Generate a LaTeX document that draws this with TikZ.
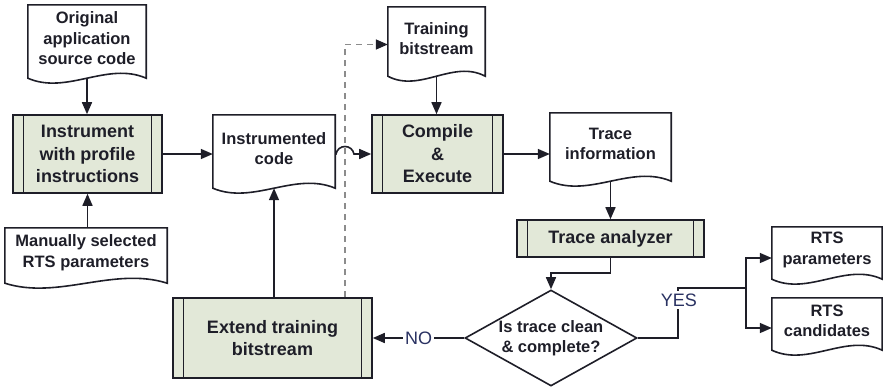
\documentclass[tikz,border=0pt]{standalone}
\usepackage{fontspec}
\setmainfont{Liberation Sans}
\usetikzlibrary{shapes.geometric,arrows.meta,calc}

\definecolor{procfill}{HTML}{E2E8D8}
\definecolor{ink}{HTML}{1E1E28}
\definecolor{dashgray}{HTML}{8C8C8C}
\definecolor{labelink}{HTML}{2A3262}

% Document symbol: straight top and sides, wavy bottom edge drawn
% #1 below the node's south border.
\newcommand\docoutline[2][6]{%
  \draw[outline] (#2.north west) -- (#2.north east) -- ($(#2.south east)+(0,#1)$)
    .. controls ($(#2.south east)!0.33!(#2.south west)+(0,#1-17)$)
            and ($(#2.south east)!0.67!(#2.south west)+(0,#1+17)$)
    .. ($(#2.south west)+(0,#1)$) -- cycle;}

\begin{document}
\begin{tikzpicture}[x=1pt,y=-1pt,
  outline/.style={line width=1.6pt, draw=ink, line join=miter},
  line/.style={line width=1.6pt, draw=ink},
  txt/.style={font=\fontsize{16.5}{20.5}\selectfont\bfseries, text=ink,
    align=center, inner sep=0pt},
  doc/.style={txt, rectangle},
  proc/.style={txt, rectangle, outline, fill=procfill,
    font=\fontsize{18}{22.5}\selectfont\bfseries,
    path picture={
      \draw[line] ([xshift=10.5pt]path picture bounding box.north west)
               -- ([xshift=10.5pt]path picture bounding box.south west);
      \draw[line] ([xshift=-10.5pt]path picture bounding box.north east)
               -- ([xshift=-10.5pt]path picture bounding box.south east);}},
  arr/.style={line, -{Triangle[length=12pt,width=10pt]}},
  dasharr/.style={line width=1.5pt, draw=dashgray, dash pattern=on 6pt off 5pt,
    -{Triangle[length=12pt,width=10pt,color=ink]}},
  yesno/.style={font=\fontsize{18}{18}\selectfont, text=labelink, fill=white,
    inner xsep=2pt, inner ysep=3pt},
]
\useasboundingbox (0,0) rectangle (883,388);

% ---- documents ----
\node[doc, minimum width=118pt, minimum height=67pt] (orig) at (87,38.5)
  {Original\\application\\source code};
\node[doc, minimum width=162pt, minimum height=49pt] (manual) at (86,252.5)
  {Manually selected\\RTS parameters};
\node[doc, minimum width=122pt, minimum height=67pt] (icode) at (274,148.5)
  {Instrumented\\code};
\node[doc, minimum width=97pt, minimum height=63pt] (train) at (436.5,38.5)
  {Training\\bitstream};
\node[doc, minimum width=121pt, minimum height=62pt] (trace) at (610.5,144)
  {Trace\\information};
\node[doc, minimum width=110pt, minimum height=46pt] (rtsp) at (827,250)
  {RTS\\parameters};
\node[doc, minimum width=110pt, minimum height=46pt] (rtsc) at (827,321)
  {RTS\\candidates};
\foreach \d in {orig,manual,icode,train,trace,rtsp,rtsc} {\docoutline{\d}}

% ---- processes ----
\node[proc, minimum width=149pt, minimum height=78pt] (instr) at (87.5,154)
  {Instrument\\with profile\\instructions};
\node[proc, minimum width=131pt, minimum height=78pt] (compile) at (437.5,154)
  {Compile\\\&\\Execute};
\node[proc, minimum width=187pt, minimum height=37pt] (analyzer) at (610.5,238.5)
  {Trace analyzer};
\node[proc, minimum width=199pt, minimum height=80pt] (extend) at (272.5,338)
  {Extend training\\bitstream};

% ---- decision ----
\node[diamond, txt, outline, fill=white, aspect=1.79,
  minimum width=172pt, minimum height=96pt] (check) at (551,338)
  {\makebox[0pt]{Is trace clean}\\\makebox[0pt]{\& complete?}};

% ---- connectors ----
\coordinate (cross) at ($(extend.north)+(72.5,0)$);
\draw[dasharr] (cross) -- ($(cross |- train.west)+(0,6)$) -- ($(train.west)+(0,6)$);

\draw[arr] ($(orig.south)+(0,6)$) -- (orig.south |- instr.north);
\draw[arr] (manual.north -| instr.south) -- (instr.south);
\draw[arr] (instr.east) -- (instr.east -| icode.west);
\draw[arr] (icode.east |- compile.west) -- ($(cross |- compile.west)+(-9,0)$)
  .. controls ($(cross |- compile.west)+(-7,-10)$) and ($(cross |- compile.west)+(7,-10)$)
  .. ($(cross |- compile.west)+(9,0)$) -- (compile.west);
\draw[arr] ($(train.south)+(0,6)$) -- (train.south |- compile.north);
\draw[arr] (compile.east) -- (compile.east -| trace.west);
\draw[arr] ($(trace.south)+(0,6)$) -- (trace.south |- analyzer.north);
\draw[arr] (analyzer.south) -- ++(0,15) -| (check.north);
\draw[arr] (check.west) -- node[yesno] (no) {NO} (extend.east);
\draw[arr] (extend.north -| icode.south) -- ($(icode.south)+(0,6)$);

\coordinate (ycorner) at ($(check.east)+(40,-50)$);
\coordinate (branch) at ($(ycorner)+(68,0)$);
\draw[line] (check.east) -- (check.east -| ycorner) -- (ycorner) -- (branch);
\node[yesno] (yes) at ($(ycorner)+(1,12)$) {YES};
\draw[arr] (branch) |- ($(rtsp.west)+(0,8)$);
\draw[arr] (branch) |- ($(rtsc.west)+(0,7)$);
\end{tikzpicture}
\end{document}
